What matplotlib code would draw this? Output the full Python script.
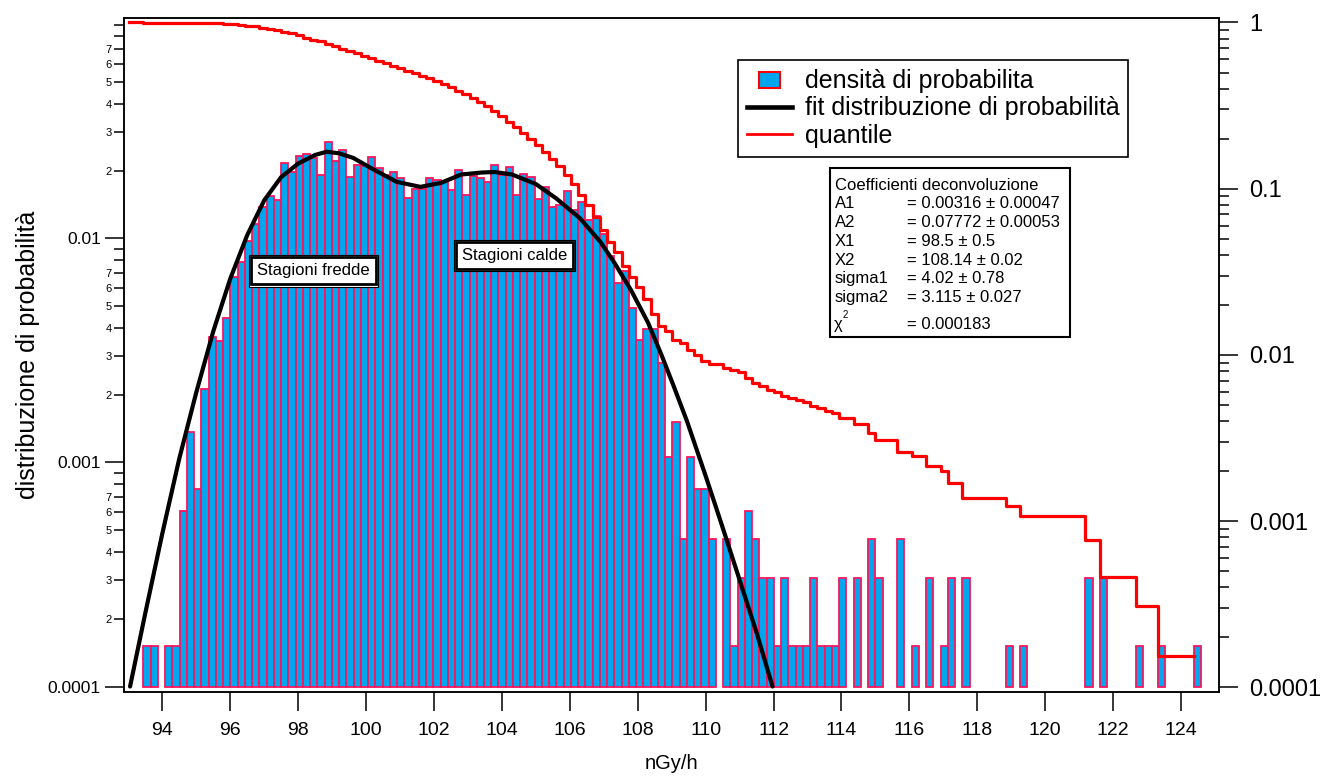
import matplotlib
matplotlib.use('Agg')
import matplotlib.pyplot as plt
import matplotlib.patches as mpatches
from matplotlib.lines import Line2D
from matplotlib.legend_handler import HandlerPatch
from matplotlib.ticker import LogLocator, FuncFormatter, NullFormatter, NullLocator
import numpy as np

plt.rcParams['font.family'] = ['Liberation Sans', 'DejaVu Sans']

W_PX, H_PX = 1326, 776

# histogram: regular bins (nGy/h), probability per bin
BIN_START = 93.443
BIN_WIDTH = 0.2134
prob = [
    0.000152, 0.000152, 0, 0.000152, 0.000152, 0.000607, 0.001365, 0.000759, 0.00212, 0.00364,
    0.00349, 0.0044, 0.00671, 0.00782, 0.00973, 0.01164, 0.01387, 0.01549, 0.0149, 0.02163,
    0.0199, 0.02333, 0.02377, 0.02289, 0.0193, 0.02697, 0.02221, 0.02489, 0.01879, 0.02123,
    0.02099, 0.02317, 0.0206, 0.0193, 0.0199, 0.01858, 0.0152, 0.0167, 0.0167, 0.01858,
    0.01823, 0.0181, 0.0164, 0.0203, 0.01567, 0.01892, 0.01858, 0.0179, 0.0212, 0.0193,
    0.0208, 0.01567, 0.0194, 0.0189, 0.01507, 0.0169, 0.0138, 0.0141, 0.01626, 0.01346,
    0.01462, 0.0121, 0.01257, 0.0105, 0.00836, 0.00636, 0.00718, 0.00491, 0.00353, 0.00396,
    0.00396, 0.00278, 0.00106, 0.00152, 0.000455, 0.00106, 0.000759, 0.000759, 0.000455, 0,
    0.000455, 0.000152, 0.000304, 0.000607, 0.000455, 0.000304, 0.000304, 0.000152, 0.000304, 0.000152,
    0.000152, 0.000152, 0.000304, 0.000152, 0.000152, 0.000152, 0.000304, 0, 0.000304, 0,
    0.000455, 0.000304, 0, 0, 0.000455, 0, 0.000152, 0, 0.000304, 0,
    0.000152, 0.000304, 0, 0.000304, 0, 0, 0, 0, 0, 0.000152,
    0, 0.000152, 0, 0, 0, 0, 0, 0, 0, 0,
    0.000304, 0, 0.000304, 0, 0, 0, 0, 0.000152, 0, 0,
    0.000152, 0, 0, 0, 0, 0.000152,
]

# quantile (right axis): level before the first bin, then after each bin edge
Q_START = 93.02
quantile = [
    1.0,
    0.99985, 0.99969, 0.99969, 0.99954, 0.99938, 0.99877, 0.99738, 0.99661, 0.99447, 0.99077,
    0.98724, 0.98277, 0.97597, 0.96804, 0.95818, 0.94638, 0.93231, 0.91661, 0.9015, 0.87957,
    0.85939, 0.83574, 0.81164, 0.78843, 0.76886, 0.74151, 0.719, 0.69376, 0.67471, 0.65318,
    0.6319, 0.60841, 0.58752, 0.56795, 0.54777, 0.52894, 0.51353, 0.49659, 0.47966, 0.46082,
    0.44234, 0.42399, 0.40736, 0.38677, 0.3709, 0.35171, 0.33287, 0.31472, 0.29323, 0.27366,
    0.25257, 0.23668, 0.21701, 0.19785, 0.18257, 0.16543, 0.15144, 0.13714, 0.12066, 0.10701,
    0.09219, 0.07992, 0.06717, 0.05653, 0.04805, 0.0416, 0.03432, 0.02934, 0.02577, 0.02175,
    0.01774, 0.01492, 0.01384, 0.0123, 0.01184, 0.01077, 0.01, 0.00923, 0.00877, 0.00877,
    0.008305, 0.008151, 0.007844, 0.007229, 0.006767, 0.00646, 0.006152, 0.005998, 0.005691, 0.005537,
    0.005383, 0.005229, 0.004922, 0.004768, 0.004614, 0.00446, 0.004153, 0.004153, 0.003845, 0.003845,
    0.003384, 0.003076, 0.003076, 0.003076, 0.002615, 0.002615, 0.002461, 0.002461, 0.002153, 0.002153,
    0.002, 0.001692, 0.001692, 0.001384, 0.001384, 0.001384, 0.001384, 0.001384, 0.001384, 0.00123,
    0.00123, 0.001077, 0.001077, 0.001077, 0.001077, 0.001077, 0.001077, 0.001077, 0.001077, 0.001077,
    0.000769, 0.000769, 0.000461, 0.000461, 0.000461, 0.000461, 0.000461, 0.000308, 0.000308, 0.000308,
    0.000154, 0.000154, 0.000154, 0.000154, 0.000154,
]

# double-gaussian fit
fit_x = [93.05, 93.5, 94.0, 94.5, 95.0, 95.5, 96.0, 96.5, 97.0, 97.5,
         98.0, 98.5, 98.84, 99.2, 99.62, 100.2, 100.9, 101.6, 102.2, 102.8,
         103.4, 103.8, 104.3, 105.0, 105.6, 106.3, 106.9, 107.3, 107.8, 108.3,
         108.7, 109.05, 109.45, 110.0, 110.5, 111.0, 111.5, 111.97]
fit_y = [1.0e-4, 2.13e-4, 4.82e-4, 1.042e-3, 2.056e-3, 3.85e-3, 6.61e-3, 1.035e-2, 1.48e-2, 1.88e-2,
         2.16e-2, 2.36e-2, 2.44e-2, 2.40e-2, 2.29e-2, 2.04e-2, 1.79e-2, 1.70e-2, 1.77e-2, 1.93e-2,
         1.97e-2, 1.98e-2, 1.93e-2, 1.75e-2, 1.51e-2, 1.23e-2, 9.66e-3, 7.85e-3, 5.89e-3, 4.22e-3,
         3.02e-3, 2.21e-3, 1.53e-3, 8.71e-4, 5.13e-4, 2.99e-4, 1.74e-4, 1.0e-4]

LEGEND_LABELS = ['densità di probabilita', 'fit distribuzione di probabilità', 'quantile']
STAT_TITLE = 'Coefficienti deconvoluzione'
STAT_NAMES = ['A1', 'A2', 'X1', 'X2', 'sigma1', 'sigma2']
STAT_VALUES = ['= 0.00316 ± 0.00047', '= 0.07772 ± 0.00053', '= 98.5 ± 0.5',
               '= 108.14 ± 0.02', '= 4.02 ± 0.78', '= 3.115 ± 0.027']
CHI2_VALUE = '= 0.000183'

BAR_FACE = '#00a6ee'
BAR_EDGE = '#f8175e'
BASE = 1e-4


def fxy(px, py):
    return px / W_PX, 1 - py / H_PX


def small_box(legend, orig_handle, xdescent, ydescent, width, height, fontsize):
    w = 0.48 * width
    return mpatches.Rectangle((-xdescent + (width - w) / 2, -ydescent), w, 0.9 * height)


fig = plt.figure(figsize=(W_PX / 100, H_PX / 100), dpi=100)
ax = fig.add_axes([0.0933, 0.10863, 0.8262, 0.8678])
ax2 = ax.twinx()

edges = BIN_START + BIN_WIDTH * np.arange(len(prob) + 1)
p = np.array(prob)
m = p > 0
ax.bar(edges[:-1][m], p[m] - BASE, bottom=BASE, width=BIN_WIDTH, align='edge',
       color=BAR_FACE, edgecolor=BAR_EDGE, linewidth=1.3, zorder=2)
ax.plot(fit_x, fit_y, color='black', lw=3.0, solid_joinstyle='round',
        solid_capstyle='round', zorder=3)

n_q = len(quantile)
xq = np.r_[Q_START, edges[:n_q - 1], edges[n_q - 1]]
yq = np.r_[quantile, quantile[-1]]
ax2.step(xq, yq, where='post', color='#ff0000', lw=2.3)

ax.set_xlim(92.863, 125.125)
ax.set_yscale('log')
ax.set_ylim(10 ** -4.0232, 10 ** -1.017)
ax2.set_yscale('log')
ax2.set_ylim(10 ** -4.0265, 10 ** 0.0253)

# left axis ticks
ax.yaxis.set_major_locator(LogLocator(base=10))
ax.yaxis.set_major_formatter(FuncFormatter(lambda v, _: f'{v:g}'))
ax.yaxis.set_minor_locator(LogLocator(base=10, subs=np.arange(2, 10)))


def minor_fmt(v, _):
    d = int(round(v / 10 ** np.floor(np.log10(v) + 1e-9)))
    return str(d) if 2 <= d <= 7 else ''


ax.yaxis.set_minor_formatter(FuncFormatter(minor_fmt))
ax.set_xticks(np.arange(94, 125, 2))
ax.xaxis.set_minor_locator(NullLocator())

ax2.yaxis.set_major_locator(LogLocator(base=10))
ax2.yaxis.set_major_formatter(FuncFormatter(lambda v, _: f'{v:g}'))
ax2.yaxis.set_minor_locator(LogLocator(base=10, subs=np.arange(2, 10)))
ax2.yaxis.set_minor_formatter(NullFormatter())

for a in (ax, ax2):
    for s in a.spines.values():
        s.set_linewidth(1.1)
ax.tick_params(axis='both', which='both', direction='out', width=1.1)
ax.tick_params(axis='y', which='major', length=13.5, labelsize=12.5, pad=3)
ax.tick_params(axis='y', which='minor', length=7.5, labelsize=8, pad=1)
ax.tick_params(axis='x', which='major', length=13.5, labelsize=14, pad=8)
ax2.tick_params(axis='y', which='both', direction='out', width=1.1)
ax2.tick_params(axis='y', which='major', length=13.5, labelsize=17, pad=8)
ax2.tick_params(axis='y', which='minor', length=7.5)

ax.set_xlabel('nGy/h', fontsize=14.5)
ax.xaxis.set_label_coords(0.5, -0.093)
ax.set_ylabel('distribuzione di probabilità', fontsize=18)
ax.yaxis.set_label_coords(-0.0764, 0.5)

# annotation boxes
for x, y, txt in [(98.446, 0.00718, 'Stagioni fredde'), (104.371, 0.00839, 'Stagioni calde')]:
    ax.text(x, y, txt, fontsize=12, ha='center', va='center', zorder=6,
            bbox=dict(boxstyle='square,pad=0.5', fc='white', ec='black', lw=0.8))
    ax.text(x, y, txt, fontsize=12, ha='center', va='center', zorder=7,
            bbox=dict(boxstyle='square,pad=0.36', fc='white', ec='black', lw=2.0))

# legend
handles = [mpatches.Patch(facecolor=BAR_FACE, edgecolor='#ff0000', linewidth=1.5),
           Line2D([], [], color='black', lw=3.3),
           Line2D([], [], color='#ff0000', lw=2.0)]
leg = ax2.legend(handles, LEGEND_LABELS, loc='upper left', bbox_to_anchor=(0.561, 0.938),
                 fontsize=18, frameon=True, fancybox=False, edgecolor='black', framealpha=1,
                 borderpad=0.35, handlelength=1.8, handletextpad=0.5, labelspacing=0.14,
                 borderaxespad=0, handler_map={mpatches.Patch: HandlerPatch(patch_func=small_box)})
leg.get_frame().set_linewidth(1.2)

# fit coefficients box
x0, y0 = fxy(830, 336.7)
x1, y1 = fxy(1070, 168.3)
fig.patches.append(mpatches.Rectangle((x0, y0), x1 - x0, y1 - y0, transform=fig.transFigure,
                                      fc='white', ec='black', lw=1.5, zorder=5))
fig.text(*fxy(835, 190), STAT_TITLE, fontsize=12, va='baseline', zorder=6)
for k, (name, val) in enumerate(zip(STAT_NAMES, STAT_VALUES)):
    yb = 208.5 + k * 18.7
    fig.text(*fxy(835, yb), name, fontsize=12, va='baseline', zorder=6)
    fig.text(*fxy(906.7, yb), val, fontsize=12, va='baseline', zorder=6)
fig.text(*fxy(834, 328.5), 'χ', fontsize=12, va='baseline', zorder=6)
fig.text(*fxy(842.5, 317.5), '2', fontsize=7, va='baseline', zorder=6)
fig.text(*fxy(906.7, 328.5), CHI2_VALUE, fontsize=12, va='baseline', zorder=6)

fig.savefig('out.png', dpi=100)
